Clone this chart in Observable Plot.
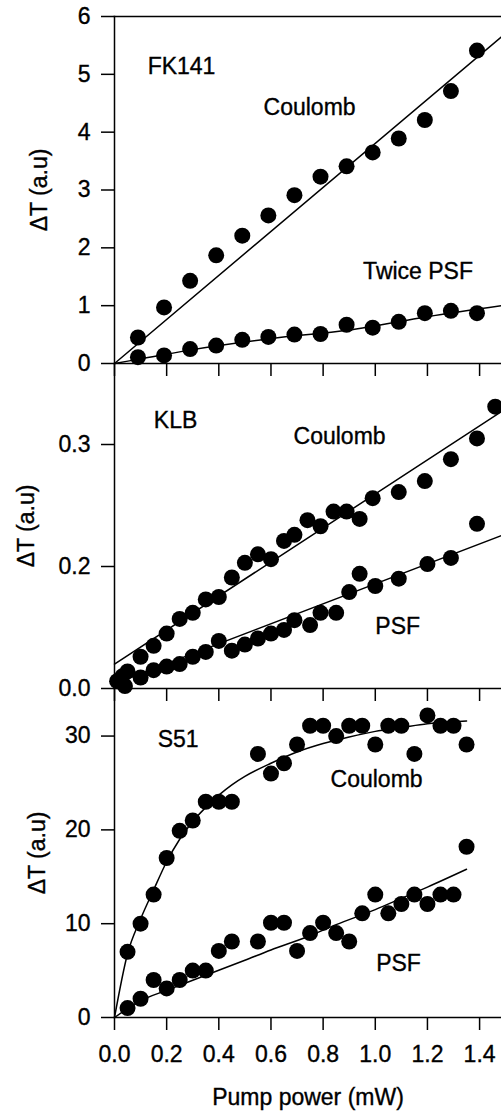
<!DOCTYPE html>
<html>
<head>
<meta charset="utf-8">
<script src="https://cdn.jsdelivr.net/npm/d3@7"></script>
<script src="https://cdn.jsdelivr.net/npm/@observablehq/plot@0.6"></script>
<style>
  body { margin: 0; background: #fff; }
  #wrap { position: relative; width: 501px; height: 1112px; overflow: hidden; background: #fff; }
  #wrap svg { position: absolute; left: 0; }
  #wrap svg text { stroke: black; stroke-width: 0.35px; }
</style>
</head>
<body>
<div id="wrap"></div>
<script>
// ---------- shared x axis ----------
const xTicks = [0, 0.2, 0.4, 0.6, 0.8, 1.0, 1.2, 1.4];
const xLabel = "Pump power (mW)";
const yLabel = "ΔT (a.u)";

// ---------- panel 1 : FK141 ----------
const fkX       = [0.09, 0.19, 0.29, 0.39, 0.49, 0.59, 0.69, 0.79, 0.89, 0.99, 1.09, 1.19, 1.29, 1.39];
const fkCoulomb = [0.45, 0.97, 1.43, 1.87, 2.21, 2.56, 2.91, 3.23, 3.41, 3.65, 3.89, 4.21, 4.71, 5.41];
const fkPSF     = [0.11, 0.14, 0.25, 0.31, 0.41, 0.46, 0.50, 0.51, 0.67, 0.62, 0.72, 0.87, 0.91, 0.87];
const fkCoulombFitX = [0, 1.484];
const fkCoulombFitY = [0, 5.65];
const fkPSFFitX = [0, 0.1, 0.3, 0.6, 0.9, 1.2, 1.484];
const fkPSFFitY = [0, 0.08, 0.24, 0.43, 0.58, 0.81, 1.0];
const fkYTicks = [0, 1, 2, 3, 4, 5, 6];
const fkNotes = ["FK141", "Coulomb", "Twice PSF"];
const fkNoteX = [0.257, 0.748, 1.164];
const fkNoteY = [5.13, 4.42, 1.58];

// ---------- panel 2 : KLB ----------
const klbCX = [0.05, 0.10, 0.15, 0.20, 0.25, 0.30, 0.35, 0.40, 0.45, 0.50, 0.55, 0.60, 0.65, 0.69, 0.74, 0.79, 0.84, 0.89, 0.94, 0.99, 1.09, 1.19, 1.29, 1.39, 1.46];
const klbCoulomb = [0.114, 0.126, 0.135, 0.145, 0.157, 0.162, 0.173, 0.175, 0.191, 0.203, 0.210, 0.206, 0.221, 0.226, 0.238, 0.233, 0.245, 0.245, 0.239, 0.256, 0.261, 0.270, 0.288, 0.305, 0.331];
const klbPX = [0.01, 0.03, 0.04, 0.10, 0.15, 0.20, 0.25, 0.30, 0.35, 0.40, 0.45, 0.50, 0.55, 0.60, 0.65, 0.69, 0.75, 0.79, 0.85, 0.90, 0.94, 1.00, 1.09, 1.20, 1.29, 1.39];
const klbPSF = [0.106, 0.110, 0.102, 0.109, 0.115, 0.118, 0.120, 0.126, 0.130, 0.139, 0.131, 0.136, 0.141, 0.145, 0.148, 0.156, 0.152, 0.162, 0.162, 0.179, 0.194, 0.184, 0.190, 0.202, 0.207, 0.235];
const klbCoulombFitX = [0, 1.484];
const klbCoulombFitY = [0.120, 0.327];
const klbPSFFitX = [0, 1.484];
const klbPSFFitY = [0.104, 0.2254];
const klbYTicks = [0.1, 0.2, 0.3];
const klbYTickLabels = ["0.0", "0.2", "0.3"];
const klbNotes = ["KLB", "Coulomb", "PSF"];
const klbNoteX = [0.234, 0.863, 1.086];
const klbNoteY = [0.3197, 0.3066, 0.1508];

// ---------- panel 3 : S51 ----------
const s51X = [0.05, 0.10, 0.15, 0.20, 0.25, 0.30, 0.35, 0.40, 0.45, 0.55, 0.60, 0.65, 0.70, 0.75, 0.80, 0.85, 0.90, 0.95, 1.00, 1.05, 1.10, 1.15, 1.20, 1.25, 1.30, 1.35];
const s51Coulomb = [7.0, 10.0, 13.1, 17.0, 19.9, 21.0, 23.0, 23.0, 23.0, 28.1, 26.0, 27.1, 29.1, 31.1, 31.1, 30.0, 31.1, 31.1, 29.1, 31.1, 31.1, 28.1, 32.2, 31.1, 31.1, 29.1];
const s51PSF = [1.0, 2.0, 4.0, 3.1, 4.0, 5.0, 5.0, 7.1, 8.1, 8.1, 10.1, 10.1, 7.1, 9.0, 10.1, 9.0, 8.1, 11.1, 13.1, 11.1, 12.1, 13.1, 12.1, 13.1, 13.1, 18.2];
const s51CoulombFitX = [0, 0.05, 0.1, 0.15, 0.2, 0.25, 0.3, 0.35, 0.4, 0.45, 0.5, 0.6, 0.7, 0.8, 0.9, 1.0, 1.1, 1.2, 1.35];
const s51CoulombFitY = [0, 6.8, 10.5, 13.6, 16.6, 19.0, 20.9, 22.4, 23.7, 24.8, 25.7, 27.1, 28.3, 29.2, 29.9, 30.5, 30.9, 31.3, 31.6];
const s51PSFFitX = [0, 0.1, 0.2, 0.35, 0.5, 0.6, 0.73, 0.85, 1.0, 1.1, 1.2, 1.35];
const s51PSFFitY = [0, 1.8, 2.9, 4.5, 6.1, 7.2, 8.5, 9.9, 11.5, 12.7, 13.9, 15.8];
const s51YTicks = [0, 10, 20, 30];
const s51Notes = ["S51", "Coulomb", "PSF"];
const s51NoteX = [0.244, 1.005, 1.089];
const s51NoteY = [29.6, 25.4, 5.78];

// ---------- helpers ----------
const FONT = '"Liberation Sans", Arial, Helvetica, sans-serif';
const xDomain = [0, 1.484];
const zip = (xs, ys) => xs.map((x, i) => ({x, y: ys[i]}));
const notes = (ts, xs, ys) => ts.map((t, i) => ({t, x: xs[i], y: ys[i]}));

function panel(cfg) {
  const marks = [
    Plot.axisY({
      ticks: cfg.yTicks, tickSize: 13, tickPadding: 11, strokeWidth: 1.5,
      fontSize: 23, tickFormat: cfg.yFmt,
      label: yLabel, labelAnchor: "center", labelOffset: cfg.labelOffset, labelArrow: "none"
    }),
    Plot.axisX({
      ticks: xTicks, tickSize: 13, tickPadding: 15, strokeWidth: 1.5, fontSize: 23,
      tickFormat: cfg.showX ? d3.format(".1f") : () => "",
      label: cfg.showX ? xLabel : null, labelAnchor: "center", labelOffset: cfg.xLabelOffset || 0, labelArrow: "none"
    }),
    Plot.frame({anchor: "left", strokeWidth: 1.5}),
    Plot.frame({anchor: "bottom", strokeWidth: 1.5}),
    ...(cfg.frameTop ? [Plot.frame({anchor: "top", strokeWidth: 1.5})] : []),
    ...cfg.fits.map(f => Plot.line(f.data, {x: "x", y: "y", stroke: "black", strokeWidth: 1.5, curve: f.curve})),
    ...cfg.series.map(s => Plot.dot(s, {x: "x", y: "y", r: 8, fill: "black", stroke: null})),
    Plot.text(cfg.notes, {x: "x", y: "y", text: "t", fontSize: 23, textAnchor: "middle", lineAnchor: "middle", fill: "black"})
  ];
  const svg = Plot.plot({
    width: 501, height: cfg.height,
    marginLeft: 114, marginRight: 0, marginTop: cfg.mt, marginBottom: cfg.mb,
    x: {domain: xDomain},
    y: {domain: cfg.yDomain},
    style: {background: "transparent", overflow: "visible", fontFamily: FONT, fontSize: "23px", color: "black"},
    marks
  });
  svg.style.top = cfg.top + "px";
  document.getElementById("wrap").appendChild(svg);
}

panel({
  top: 0, mt: 16, mb: 20, height: 383,
  yDomain: [0, 6], yTicks: fkYTicks, yFmt: d3.format("d"), labelOffset: 84, frameTop: true,
  fits: [{data: zip(fkCoulombFitX, fkCoulombFitY), curve: "linear"}, {data: zip(fkPSFFitX, fkPSFFitY), curve: "monotone-x"}],
  series: [zip(fkX, fkCoulomb), zip(fkX, fkPSF)],
  notes: notes(fkNotes, fkNoteX, fkNoteY)
});

panel({
  top: 353, mt: 10, mb: 20, height: 355,
  yDomain: [0.1, 0.3664], yTicks: klbYTicks, yFmt: d => klbYTickLabels[klbYTicks.indexOf(d)], labelOffset: 97,
  fits: [{data: zip(klbCoulombFitX, klbCoulombFitY), curve: "linear"}, {data: zip(klbPSFFitX, klbPSFFitY), curve: "linear"}],
  series: [zip(klbCX, klbCoulomb), zip(klbPX, klbPSF)],
  notes: notes(klbNotes, klbNoteX, klbNoteY)
});

panel({
  top: 678, mt: 10, mb: 95, height: 434,
  yDomain: [0, 35.07], yTicks: s51YTicks, yFmt: d3.format("d"), labelOffset: 86,
  showX: true, xLabelOffset: 87,
  fits: [{data: zip(s51CoulombFitX, s51CoulombFitY), curve: "monotone-x"}, {data: zip(s51PSFFitX, s51PSFFitY), curve: "monotone-x"}],
  series: [zip(s51X, s51Coulomb), zip(s51X, s51PSF)],
  notes: notes(s51Notes, s51NoteX, s51NoteY)
});
</script>
</body>
</html>
